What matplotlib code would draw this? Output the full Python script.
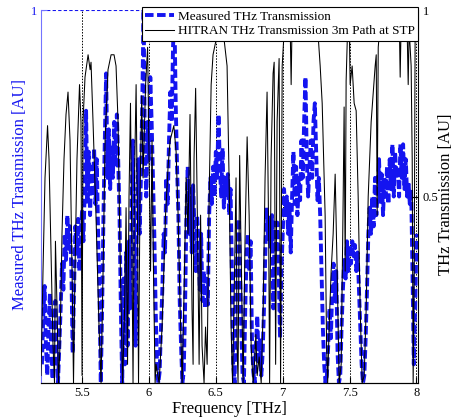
import numpy as np
import matplotlib
matplotlib.use("Agg")
import matplotlib.pyplot as plt
from matplotlib.lines import Line2D

plt.rcParams["font.family"] = ["Liberation Serif", "DejaVu Serif"]

# measured THz transmission, sampled every 0.01 THz from 5.20 to 8.00
meas_freq = np.linspace(5.20, 8.00, 281)
meas_trans = [
    0.05, 0.18, 0.26, 0.10, 0.02, 0.16, 0.24, 0.08, 0.01, 0.14,
    0.22, 0.06, 0.00, 0.10, 0.20, 0.32, 0.25, 0.40, 0.33, 0.45,
    0.36, 0.42, 0.30, 0.08, 0.25, 0.42, 0.35, 0.44, 0.30, 0.40,
    0.46, 0.38, 0.52, 0.73, 0.48, 0.62, 0.45, 0.58, 0.50, 0.63,
    0.48, 0.60, 0.40, 0.24, 0.00, 0.20, 0.45, 0.65, 0.83, 0.55,
    0.68, 0.52, 0.64, 0.55, 0.70, 0.58, 0.72, 0.60, 0.45, 0.20,
    0.00, 0.28, 0.05, 0.35, 0.10, 0.38, 0.20, 0.48, 0.65, 0.40,
    0.10, 0.45, 0.60, 0.40, 0.55, 0.75, 1.00, 0.62, 0.50, 0.70,
    0.60, 0.82, 0.70, 0.55, 0.40, 0.20, 0.05, 0.00, 0.03, 0.15,
    0.25, 0.40, 0.35, 0.55, 0.48, 0.65, 0.78, 0.70, 0.90, 1.00,
    0.75, 0.58, 0.45, 0.22, 0.10, 0.00, 0.03, 0.20, 0.45, 0.58,
    0.40, 0.52, 0.35, 0.53, 0.42, 0.30, 0.45, 0.38, 0.25, 0.40,
    0.22, 0.30, 0.20, 0.28, 0.21, 0.45, 0.55, 0.48, 0.58, 0.50,
    0.62, 0.55, 0.72, 0.58, 0.50, 0.63, 0.47, 0.55, 0.50, 0.56,
    0.45, 0.52, 0.30, 0.05, 0.00, 0.20, 0.35, 0.44, 0.32, 0.15,
    0.02, 0.00, 0.20, 0.35, 0.40, 0.30, 0.38, 0.12, 0.03, 0.00,
    0.10, 0.18, 0.05, 0.12, 0.02, 0.08, 0.20, 0.35, 0.47, 0.38,
    0.45, 0.36, 0.45, 0.20, 0.43, 0.35, 0.43, 0.30, 0.12, 0.30,
    0.40, 0.52, 0.45, 0.50, 0.40, 0.48, 0.35, 0.50, 0.62, 0.48,
    0.58, 0.45, 0.55, 0.49, 0.65, 0.55, 0.70, 0.82, 0.60, 0.50,
    0.58, 0.65, 0.55, 0.70, 0.75, 0.62, 0.49, 0.55, 0.45, 0.30,
    0.15, 0.05, 0.00, 0.02, 0.10, 0.20, 0.12, 0.25, 0.32, 0.22,
    0.30, 0.08, 0.00, 0.02, 0.15, 0.25, 0.33, 0.28, 0.38, 0.30,
    0.37, 0.32, 0.38, 0.34, 0.37, 0.30, 0.35, 0.25, 0.15, 0.05,
    0.00, 0.02, 0.12, 0.25, 0.40, 0.47, 0.40, 0.50, 0.42, 0.55,
    0.45, 0.52, 0.60, 0.48, 0.56, 0.45, 0.55, 0.50, 0.58, 0.48,
    0.60, 0.52, 0.64, 0.50, 0.62, 0.55, 0.58, 0.50, 0.64, 0.55,
    0.64, 0.52, 0.60, 0.50, 0.54, 0.48, 0.52, 0.30, 0.05, 0.20,
    0.40,
]

# HITRAN transmission, 3 m path at STP
hitran_freq = [
    5.193, 5.208, 5.223, 5.242, 5.253, 5.268, 5.283, 5.294, 5.301, 5.313,
    5.324, 5.335, 5.350, 5.365, 5.380, 5.395, 5.410, 5.425, 5.436, 5.447,
    5.462, 5.481, 5.492, 5.500, 5.507, 5.522, 5.545, 5.560, 5.567, 5.582,
    5.604, 5.627, 5.642, 5.657, 5.672, 5.694, 5.717, 5.739, 5.754, 5.769,
    5.784, 5.803, 5.818, 5.829, 5.840, 5.851, 5.862, 5.874, 5.881, 5.892,
    5.904, 5.915, 5.922, 5.933, 5.946, 5.956, 5.975, 5.990, 6.001, 6.012,
    6.023, 6.034, 6.046, 6.053, 6.076, 6.098, 6.124, 6.143, 6.158, 6.186,
    6.203, 6.218, 6.233, 6.248, 6.263, 6.278, 6.292, 6.307, 6.322, 6.330,
    6.337, 6.349, 6.360, 6.375, 6.386, 6.397, 6.412, 6.423, 6.435, 6.450,
    6.465, 6.479, 6.502, 6.532, 6.562, 6.584, 6.599, 6.614, 6.625, 6.640,
    6.651, 6.659, 6.666, 6.678, 6.689, 6.704, 6.719, 6.734, 6.749, 6.764,
    6.779, 6.790, 6.799, 6.809, 6.824, 6.839, 6.854, 6.868, 6.883, 6.895,
    6.902, 6.913, 6.928, 6.936, 6.947, 6.958, 6.973, 6.984, 6.996, 7.007,
    7.018, 7.040, 7.055, 7.063, 7.070, 7.093, 7.130, 7.167, 7.205, 7.242,
    7.265, 7.280, 7.295, 7.317, 7.328, 7.336, 7.347, 7.362, 7.377, 7.392,
    7.407, 7.422, 7.437, 7.452, 7.459, 7.467, 7.474, 7.485, 7.497, 7.504,
    7.519, 7.534, 7.549, 7.564, 7.579, 7.594, 7.609, 7.624, 7.639, 7.661,
    7.691, 7.699, 7.706, 7.714, 7.736, 7.766, 7.803, 7.841, 7.871, 7.878,
    7.886, 7.908, 7.930, 7.938, 7.945, 7.960, 7.968, 7.975, 7.983, 7.990,
    8.002, 8.013,
]
hitran_trans = [
    0.02, 0.30, 0.55, 0.69, 0.60, 0.35, 0.10, 0.00, 0.38, 0.20,
    0.00, 0.10, 0.40, 0.60, 0.72, 0.78, 0.65, 0.30, 0.00, 0.30,
    0.60, 0.80, 0.70, 0.02, 0.70, 0.82, 0.88, 0.84, 0.86, 0.70,
    0.45, 0.15, 0.00, 0.30, 0.65, 0.84, 0.88, 0.88, 0.85, 0.70,
    0.35, 0.00, 0.20, 0.47, 0.05, 0.50, 0.75, 0.30, 0.00, 0.55,
    0.80, 0.40, 0.00, 0.50, 0.77, 0.55, 0.80, 0.90, 0.60, 0.30,
    0.65, 0.30, 0.00, 0.05, 0.00, 0.15, 0.45, 0.58, 0.65, 0.69,
    0.62, 0.45, 0.20, 0.00, 0.25, 0.55, 0.40, 0.72, 0.20, 0.05,
    0.60, 0.79, 0.50, 0.05, 0.45, 0.10, 0.00, 0.15, 0.05, 0.50,
    0.80, 0.88, 0.92, 0.94, 0.92, 0.85, 0.55, 0.15, 0.00, 0.30,
    0.55, 0.10, 0.00, 0.61, 0.35, 0.00, 0.40, 0.66, 0.45, 0.10,
    0.00, 0.06, 0.13, 0.02, 0.07, 0.00, 0.20, 0.55, 0.78, 0.40,
    0.00, 0.60, 0.83, 0.86, 0.05, 0.70, 0.87, 0.00, 0.85, 0.92,
    0.97, 0.99, 0.97, 0.80, 0.97, 1.00, 1.00, 1.00, 1.00, 0.98,
    0.93, 0.85, 0.75, 0.45, 0.10, 0.00, 0.15, 0.30, 0.40, 0.56,
    0.30, 0.00, 0.05, 0.50, 0.74, 0.30, 0.81, 0.95, 0.97, 0.80,
    0.85, 0.75, 0.73, 0.50, 0.20, 0.00, 0.02, 0.20, 0.50, 0.70,
    0.85, 0.88, 0.45, 0.90, 1.00, 1.00, 1.00, 1.00, 0.98, 0.82,
    0.98, 0.98, 0.95, 0.80, 0.95, 0.85, 0.60, 0.00, 0.30, 0.95,
    0.98, 0.95,
]

x_ticks = [5.5, 6.0, 6.5, 7.0, 7.5, 8.0]
x_tick_labels = ["5.5", "6", "6.5", "7", "7.5", "8"]

BLUE = "#1414f0"
AXIS_BLUE = "#7474ff"
BLUE_DASH = (0, (2.2, 0.9))

fig = plt.figure(figsize=(4.54, 4.19), dpi=100)
ax = fig.add_axes([0.0903, 0.0859, 0.8315, 0.8902])

ax.plot(meas_freq, meas_trans, color=BLUE, lw=2.8, ls=BLUE_DASH, zorder=2)
ax.set_xlim(5.193, 8.015)
ax.set_ylim(0, 1)
ax.set_xticks(x_ticks)
ax.set_xticklabels(x_tick_labels)
ax.set_yticks([1])
ax.set_yticklabels(["1"])
ax.tick_params(axis="x", direction="in", length=4, labelsize=9, pad=3)
ax.tick_params(axis="y", direction="in", length=4, labelsize=9,
               colors=AXIS_BLUE, labelcolor=BLUE, pad=3)
ax.xaxis.grid(True, ls=(0, (1.5, 1.5)), color="k", lw=0.7)
ax.yaxis.grid(True, ls=(0, (3, 2)), color=BLUE, lw=0.8)
ax.set_axisbelow(True)
ax.spines["left"].set_color(AXIS_BLUE)
ax.spines["top"].set_visible(False)
ax.spines["right"].set_visible(False)
ax.set_xlabel("Frequency [THz]", fontsize=12, labelpad=1)

ax2 = ax.twinx()
ax2.plot(hitran_freq, hitran_trans, color="k", lw=0.75, zorder=3)
ax2.set_ylim(0, 1)
ax2.set_yticks([0.5, 1])
ax2.set_yticklabels(["0.5", "1"])
ax2.tick_params(axis="y", direction="in", length=4, labelsize=9, pad=3)
ax2.spines["top"].set_visible(False)
ax2.spines["left"].set_visible(False)

# axis titles placed by hand, as in the original figure
fig.text(20 / 454, 1 - 194 / 419, "Measured THz Transmission [AU]", fontsize=12,
         color=BLUE, rotation=90, ha="center", va="center")
fig.text(446 / 454, 1 - 194 / 419, "THz Transmission [AU]", fontsize=12,
         rotation=90, ha="center", va="center")

leg = ax2.legend(
    handles=[Line2D([], [], color=BLUE, lw=2.8, ls=BLUE_DASH),
             Line2D([], [], color="k", lw=0.75)],
    labels=["Measured THz Transmission", "HITRAN THz Transmission 3m Path at STP"],
    loc="upper right", bbox_to_anchor=(1.0, 1.008), borderaxespad=0,
    fontsize=9.5, fancybox=False, framealpha=1, edgecolor="k",
    handlelength=2.2, handletextpad=0.3, labelspacing=0.2, borderpad=0.25,
)
leg.get_frame().set_linewidth(0.8)

fig.savefig("out.png", dpi=100)
